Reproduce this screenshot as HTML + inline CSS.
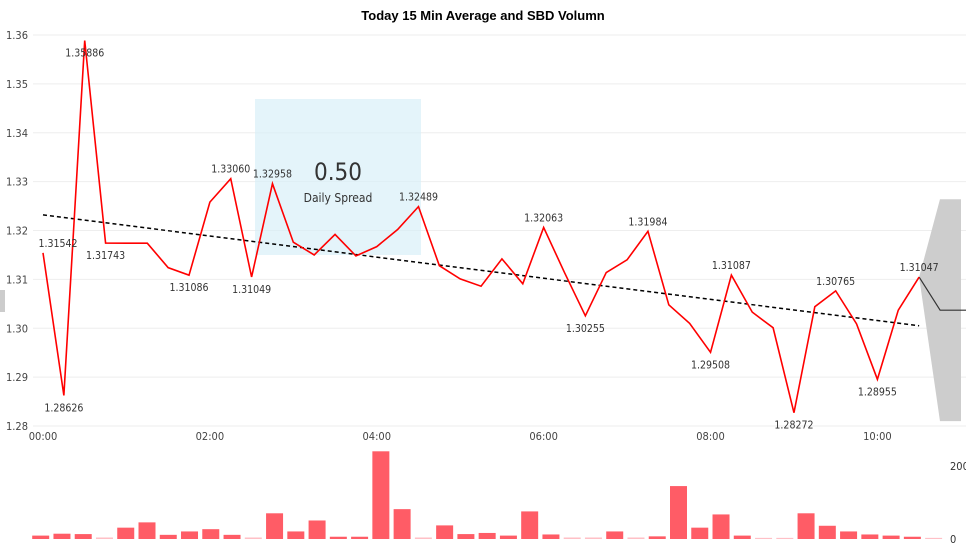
<!DOCTYPE html>
<html><head><meta charset="utf-8"><style>
body{margin:0;background:#fff;width:966px;height:545px;overflow:hidden;font-family:"Liberation Sans",sans-serif}
svg text{font-family:"DejaVu Sans Condensed","Liberation Sans",sans-serif}
</style></head><body>
<svg id="chart" width="966" height="545">
<text x="483" y="20" text-anchor="middle" font-size="13" font-weight="bold" fill="#000" style="font-family:'Liberation Sans',sans-serif">Today 15 Min Average and SBD Volumn</text>
<rect x="0" y="290" width="5" height="22" fill="#ccc"/>
<g id="grid"></g><g id="yticks"></g><g id="xticks"></g>
<rect x="255" y="99" width="166" height="156" fill="#d6eef8" opacity="0.65"/>
<g id="cone"></g>
<g id="trend"></g><g id="line"></g><g id="labels"></g>
<text x="338" y="180" text-anchor="middle" font-size="24" fill="#333">0.50</text>
<text x="338" y="202" text-anchor="middle" font-size="12" fill="#333">Daily Spread</text>
<g id="bars"></g>
<text x="950" y="470" font-size="11" fill="#333">200</text>
<text x="950" y="543" font-size="11" fill="#333">0</text>
</svg>
<script>
const prices=[1.31542,1.28626,1.35886,1.31743,1.3174,1.3174,1.3124,1.31086,1.3258,1.3306,1.31049,1.32958,1.3176,1.3150,1.3192,1.3148,1.3167,1.3202,1.32489,1.3128,1.3101,1.3086,1.3142,1.3091,1.32063,1.3114,1.30255,1.3114,1.3140,1.31984,1.3048,1.3010,1.29508,1.31087,1.3033,1.3001,1.28272,1.3044,1.30765,1.3009,1.28955,1.3037,1.31047];
const labelIdx=[0,1,2,3,7,9,10,11,18,24,26,29,32,33,36,38,40,42];
const labelPos=["a","b","b","b","b","a","b","a","a","a","b","a","b","a","b","a","b","a"];
const volumes=[9,14,13,4,30,44,11,20,26,11,4,68,20,49,6,6,232,79,4,36,13,16,9,73,12,4,4,20,4,7,140,30,65,9,3,3,68,35,20,12,9,6,3];
const yTicks=[1.28,1.29,1.30,1.31,1.32,1.33,1.34,1.35,1.36];
const xTickLabels=["00:00","02:00","04:00","06:00","08:00","10:00"];
const trendStart=1.3232, trendEnd=1.3005;
const forecast=[1.31047,1.3037,1.3037];
const coneUpper=[1.31047,1.3264,1.3264];
const coneLower=[1.31047,1.2810,1.2810];

const NS="http://www.w3.org/2000/svg";
const X=i=>43+i*20.86;
const Y=v=>35+(1.36-v)*4887.5;
const BX=i=>40.7+i*21.26;
const BY=v=>539-v*0.378;
function mk(t,a,p){const e=document.createElementNS(NS,t);for(const k in a)e.setAttribute(k,a[k]);p.appendChild(e);return e;}
const g=id=>document.getElementById(id);
yTicks.forEach(v=>{
 const l=mk("line",{x1:33,x2:966,y1:Y(v),y2:Y(v),stroke:"#eee","stroke-width":1},g("grid"));
 
 
 const t=mk("text",{x:6,y:Y(v)+4,"font-size":11,fill:"#444"},g("yticks"));
 t.textContent=v.toFixed(2);
 
 
});
xTickLabels.forEach((s,k)=>{
 const t=mk("text",{x:X(k*8),y:440,"font-size":11,fill:"#444","text-anchor":"middle"},g("xticks"));
 t.textContent=s;
 
 
});
const n=prices.length-1;
const fx2=[X(n),X(n+1),961];
let up=coneUpper.map((v,i)=>fx2[i]+","+Y(v)).join(" ");
let lo=coneLower.map((v,i)=>fx2[i]+","+Y(v)).reverse().join(" ");
const cone=mk("polygon",{points:up+" "+lo,fill:"#cdcdcd"},g("cone"));


const fl=mk("polyline",{points:forecast.map((v,i)=>[X(n)+[0,21,47][i],Y(v)].join(",")).join(" "),fill:"none",stroke:"#333","stroke-width":1.2},g("cone"));


const tr=mk("line",{x1:X(0),y1:Y(trendStart),x2:X(n),y2:Y(trendEnd),stroke:"#000","stroke-width":1.5,"stroke-dasharray":"4,3"},g("trend"));


const pl=mk("polyline",{points:prices.map((v,i)=>X(i)+","+Y(v)).join(" "),fill:"none",stroke:"#ff0000","stroke-width":1.6,"stroke-linejoin":"miter"},g("line"));


labelIdx.forEach((i,k)=>{
 const above=labelPos[k]==="a";
 const t=mk("text",{x:Math.max(X(i),58),y:Y(prices[i])+(above?-6:16),"font-size":10.5,fill:"#333","text-anchor":"middle"},g("labels"));
 t.textContent=prices[i].toFixed(5);
 
 
});
volumes.forEach((v,i)=>{
 const r=mk("rect",{x:BX(i)-8.5,y:BY(v),width:17,height:539-BY(v),fill:v<=4?"#ffc0c6":"#ff5c66"},g("bars"));
 
 
});
</script>
</body></html>
